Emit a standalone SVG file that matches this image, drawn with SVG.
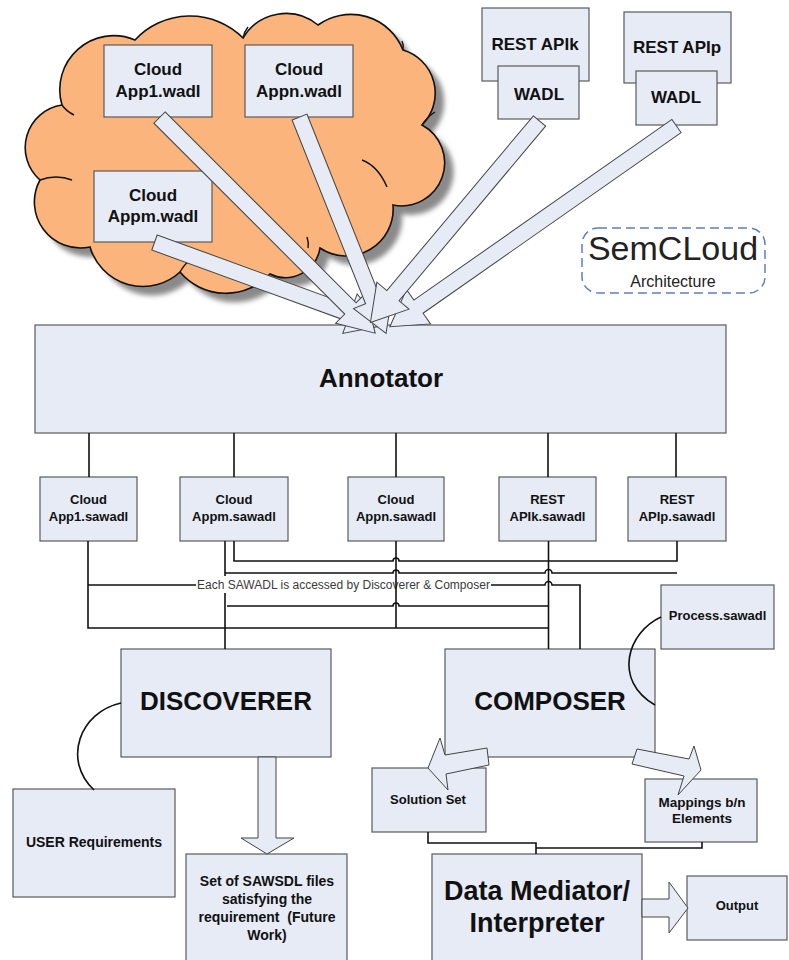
<svg xmlns="http://www.w3.org/2000/svg" width="789" height="960" viewBox="0 0 789 960">
<defs>
<style>
.box{fill:#E6EBF5;stroke:#5a5a5a;stroke-width:1.2}
.t{font-family:"Liberation Sans",Arial,sans-serif;font-weight:bold;fill:#111;text-anchor:middle}
.n{font-family:"Liberation Sans",Arial,sans-serif;fill:#222;text-anchor:middle}
.w{fill:none;stroke:#111;stroke-width:1.6}
.ba{fill:#E6EBF5;stroke:#444;stroke-width:1}
.curl{fill:none;stroke:#111;stroke-width:1.4}
</style>
<filter id="blur" x="-10%" y="-10%" width="120%" height="120%"><feGaussianBlur stdDeviation="2.5"/></filter>
<path id="cloudShape" d="M40,180 A43,43 0 0 1 62,105 A54,54 0 0 1 135,40 A75,75 0 0 1 243,38 A50,50 0 0 1 318,25 A56,56 0 0 1 403,50 A45,45 0 0 1 422,125 A43,43 0 0 1 393,205 A47,47 0 0 1 320,248 A35,35 0 0 1 270,274 A60,60 0 0 1 180,272 A55,55 0 0 1 90,247 A46,46 0 0 1 40,180 Z"/>
</defs>
<rect width="789" height="960" fill="#fff"/>

<g id="cloud">
<use href="#cloudShape" transform="translate(9,9)" fill="#8a8a8a" filter="url(#blur)"/>
<use href="#cloudShape" fill="#FBB57C" stroke="#111" stroke-width="1.6"/>
<path class="curl" d="M40,180 q16,-6 32,0"/>
<path class="curl" d="M62,105 q4,6 12,10"/>
<path class="curl" d="M243,38 q1,-6 5,-11"/>
<path class="curl" d="M403,50 q1,-5 -1,-9"/>
<path class="curl" d="M422,125 q5,-8 13,-13"/>
<path class="curl" d="M362,160 q16,6 25,27"/>
<path class="curl" d="M307,237 q2,6 1,11"/>
<path class="curl" d="M180,272 q4,-7 8,-10"/>
</g>

<g id="app1wadl"><rect class="box" x="104" y="45" width="108" height="72"/><text class="t" font-size="17" x="158" y="75">Cloud</text><text class="t" font-size="17" x="158" y="97">App1.wadl</text></g>
<g id="appnwadl"><rect class="box" x="245" y="45" width="108" height="72"/><text class="t" font-size="17" x="299" y="75">Cloud</text><text class="t" font-size="17" x="299" y="97">Appn.wadl</text></g>
<g id="appmwadl"><rect class="box" x="94" y="171" width="118" height="71"/><text class="t" font-size="17" x="153" y="201">Cloud</text><text class="t" font-size="17" x="153" y="222">Appm.wadl</text></g>

<g id="restk"><rect class="box" x="482" y="8" width="107" height="73"/><text class="t" font-size="17" x="535" y="50">REST APIk</text><rect class="box" x="498" y="66" width="81" height="53"/><text class="t" font-size="17" x="539" y="100">WADL</text></g>
<g id="restp"><rect class="box" x="624" y="12" width="107" height="71"/><text class="t" font-size="17" x="677" y="53">REST APIp</text><rect class="box" x="636" y="71" width="81" height="54"/><text class="t" font-size="17" x="676" y="103">WADL</text></g>

<g id="title"><rect x="582" y="228" width="183" height="65" rx="16" fill="none" stroke="#5B7FC0" stroke-width="1.5" stroke-dasharray="9,5"/><text class="n" font-size="34" x="673" y="260">SemCLoud</text><text class="n" font-size="16" x="673" y="287">Architecture</text></g>

<g id="annotator"><rect class="box" x="35" y="325" width="691" height="108"/><text class="t" font-size="26" x="381" y="387">Annotator</text></g>

<g id="s1"><rect class="box" x="40" y="477" width="97" height="64"/><text class="t" font-size="13" x="88.5" y="504">Cloud</text><text class="t" font-size="13" x="88.5" y="521">App1.sawadl</text></g>
<g id="s2"><rect class="box" x="180" y="477" width="108" height="64"/><text class="t" font-size="13" x="234" y="504">Cloud</text><text class="t" font-size="13" x="234" y="521">Appm.sawadl</text></g>
<g id="s3"><rect class="box" x="348" y="477" width="96" height="64"/><text class="t" font-size="13" x="396" y="504">Cloud</text><text class="t" font-size="13" x="396" y="521">Appn.sawadl</text></g>
<g id="s4"><rect class="box" x="499" y="477" width="97" height="64"/><text class="t" font-size="13" x="547.5" y="504">REST</text><text class="t" font-size="13" x="547.5" y="521">APIk.sawadl</text></g>
<g id="s5"><rect class="box" x="628" y="477" width="98" height="64"/><text class="t" font-size="13" x="677" y="504">REST</text><text class="t" font-size="13" x="677" y="521">APIp.sawadl</text></g>

<g id="process"><rect class="box" x="661" y="585" width="113" height="64"/><text class="t" font-size="13" x="717.5" y="620">Process.sawadl</text></g>
<g id="discoverer"><rect class="box" x="121" y="649" width="210" height="108"/><text class="t" font-size="26" x="226" y="710">DISCOVERER</text></g>
<g id="composer"><rect class="box" x="445" y="649" width="210" height="108"/><text class="t" font-size="26" x="550" y="710">COMPOSER</text></g>
<g id="user"><rect class="box" x="13" y="789" width="162" height="108"/><text class="t" font-size="14" x="94" y="847">USER Requirements</text></g>
<g id="sawsdlset"><rect class="box" x="186" y="854" width="161" height="115"/><text class="t" font-size="14" x="267" y="886">Set of SAWSDL files</text><text class="t" font-size="14" x="267" y="904">satisfying the</text><text class="t" font-size="14" x="267" y="922" style="white-space:pre">requirement  (Future</text><text class="t" font-size="14" x="267" y="940">Work)</text></g>
<g id="solution"><rect class="box" x="372" y="768" width="114" height="64"/><text class="t" font-size="13" x="428" y="804">Solution Set</text></g>
<g id="mappings"><rect class="box" x="645" y="779" width="112" height="63"/><text class="t" font-size="13.5" x="702" y="807">Mappings b/n</text><text class="t" font-size="13.5" x="702" y="823">Elements</text></g>
<g id="mediator"><rect class="box" x="432" y="854" width="210" height="115"/><text class="t" font-size="27" x="537" y="900">Data Mediator/</text><text class="t" font-size="27" x="537" y="932">Interpreter</text></g>
<g id="output"><rect class="box" x="687" y="876" width="100" height="64"/><text class="t" font-size="13" x="737" y="910">Output</text></g>

<g id="connectors">
<polygon class="ba" transform="translate(154.5,242.5) rotate(20)" points="0,-8 208,-8 208,-21 243,0 208,21 208,8 0,8"/>
<polygon class="ba" transform="translate(159.5,117.5) rotate(45)" points="0,-8 270,-8 270,-21 305,0 270,21 270,8 0,8"/>
<polygon class="ba" transform="translate(299.5,117) rotate(68.2)" points="0,-8 198,-8 198,-21 233,0 198,21 198,8 0,8"/>
<polygon class="ba" transform="translate(676.5,126) rotate(145)" points="0,-8 315,-8 315,-21 350,0 315,21 315,8 0,8"/>
<polygon class="ba" transform="translate(539.5,121) rotate(130)" points="0,-8 228,-8 228,-21 263,0 228,21 228,8 0,8"/>

<path class="w" d="M89,433V477M234,433V477M396,433V477M548,433V477M676,433V477"/>

<path class="w" d="M88,541V628H548"/>
<path class="w" d="M88,585H545a3.5,3.5 0 0 1 7,0H580V649"/>
<path class="w" d="M234,541V561H393a3,3 0 0 1 6,0H677V541"/>
<path class="w" d="M225,541V649"/>
<path class="w" d="M225,573H393a3,3 0 0 1 6,0H545a3.5,3.5 0 0 1 7,0H677"/>
<path class="w" d="M227,606H393a3,3 0 0 1 6,0H548"/>
<path class="w" stroke-width="2.4" d="M548.5,541V649"/>
<rect x="196" y="576" width="295" height="17" fill="#fff"/>
<text x="343.5" y="589" font-family="Liberation Sans,Arial,sans-serif" font-size="12" fill="#3a3a3a" text-anchor="middle">Each SAWADL is accessed by Discoverer &amp; Composer</text>
<path class="w" d="M396,541V628"/>

<path class="w" d="M661,617C628,632 612,680 655,705"/>
<path class="w" d="M121,703C80,712 62,760 94,790"/>

<polygon class="ba" points="258,757 276,757 276,838 294,838 267,854 241,838 258,838"/>
<polygon class="ba" points="487,748 445,755 440,738 428,768 448,790 446,774 489,765"/>
<polygon class="ba" points="637,749 689,759 694,746 701,770 678,795 684,776 632,764"/>
<polygon class="ba" points="642,899 669,899 669,882 688,908 669,933 669,917 642,917"/>

<path class="w" d="M428,832V843H536V854M702,842V848H536"/>
</g>
</svg>
